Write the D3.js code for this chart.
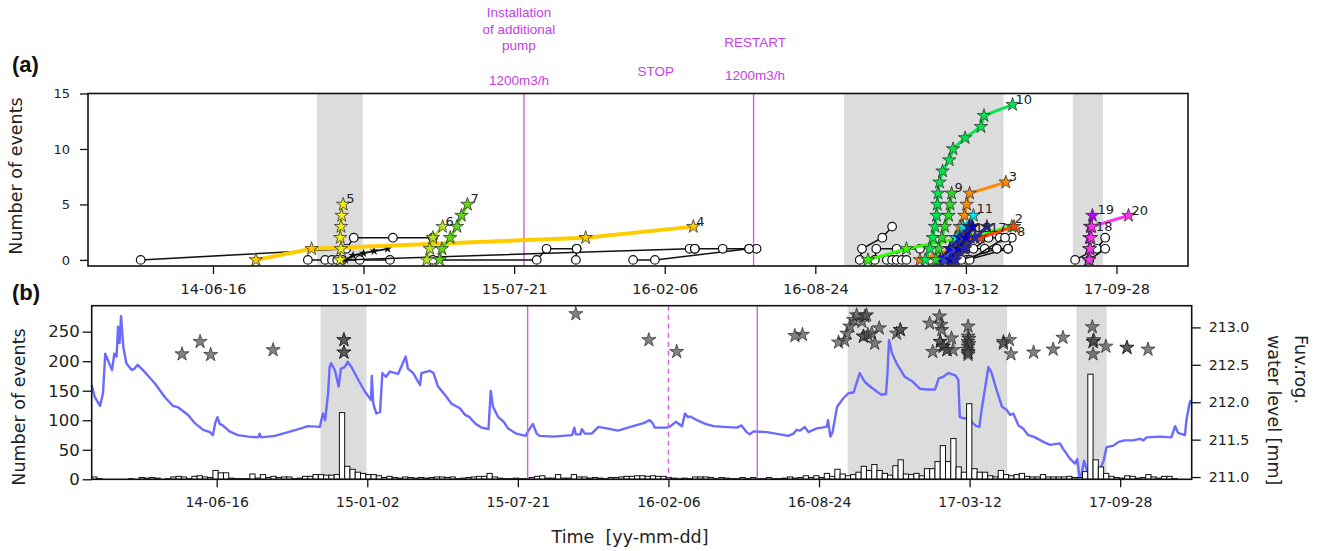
<!DOCTYPE html>
<html>
<head>
<meta charset="utf-8">
<script src="https://cdn.jsdelivr.net/npm/d3@7"></script>
<style>
  body { margin: 0; background: #fff; }
  svg { display: block; font-family: "DejaVu Sans", sans-serif; }
</style>
</head>
<body>
<svg id="chart" width="1320" height="551"></svg>
<script>
// ---- data (days are counted from 2014-01-01) ----
const tickDates = ["2014-06-16", "2015-01-02", "2015-07-21", "2016-02-06", "2016-08-24", "2017-03-12", "2017-09-28"];
const shadedPeriods = [["2014-11-01", "2015-01-01"], ["2016-10-01", "2017-05-01"], ["2017-08-01", "2017-09-10"]];
const installDate = "2015-08-03";
const stopDate = "2016-02-06";
const restartDate = "2016-06-03";
const installText = ["Installation", "of additional", "pump"];
const rateText = "1200m3/h";

// Fuv.rog. water level [day, level]
const waterLevel = [
  [0,212.23],[4,212.07],[11,211.95],[15,212.12],[18,212.65],[24,212.50],[27,212.43],[30,212.65],[33,212.61],
  [35,213.01],[37,212.79],[39,213.15],[42,212.74],[46,212.52],[53,212.43],[57,212.45],[61,212.50],[68,212.43],
  [84,212.25],[97,212.07],[108,211.95],[115,211.93],[128,211.83],[137,211.72],[148,211.63],[157,211.60],
  [161,211.56],[164,211.72],[167,211.80],[170,211.71],[174,211.69],[183,211.61],[194,211.56],[208,211.54],
  [221,211.53],[223,211.58],[225,211.53],[243,211.55],[261,211.60],[278,211.65],[287,211.68],[303,211.67],
  [307,211.85],[310,211.76],[314,212.12],[316,212.47],[318,212.52],[323,212.43],[328,212.21],[331,212.45],
  [336,212.47],[340,212.54],[345,212.47],[354,212.30],[363,212.14],[371,212.03],[372,212.35],[374,211.98],
  [378,211.85],[383,211.87],[386,212.39],[391,212.34],[396,212.41],[407,212.38],[411,212.47],[417,212.61],
  [420,212.45],[427,212.39],[436,212.23],[438,212.39],[445,212.41],[449,212.42],[454,212.39],[460,212.21],
  [469,212.10],[478,211.98],[489,211.92],[496,211.83],[502,211.80],[509,211.72],[518,211.66],[527,211.64],
  [530,212.15],[533,211.94],[540,211.80],[547,211.74],[553,211.65],[564,211.58],[576,211.55],[580,211.62],
  [586,211.71],[591,211.58],[595,211.55],[613,211.54],[638,211.56],[641,211.66],[643,211.57],[649,211.57],
  [651,211.64],[655,211.58],[664,211.58],[673,211.67],[684,211.65],[699,211.62],[719,211.68],[733,211.72],
  [741,211.76],[745,211.72],[748,211.66],[764,211.66],[769,211.68],[776,211.74],[784,211.68],[788,211.85],
  [792,211.80],[795,211.81],[804,211.76],[815,211.71],[826,211.68],[839,211.67],[857,211.66],[863,211.69],
  [870,211.60],[874,211.57],[879,211.61],[897,211.60],[914,211.57],[925,211.55],[932,211.58],[936,211.63],
  [941,211.62],[947,211.67],[952,211.60],[963,211.65],[976,211.67],[978,211.76],[981,211.54],[984,211.60],
  [990,211.94],[998,212.05],[1005,212.12],[1012,212.13],[1020,212.39],[1027,212.27],[1034,212.21],[1043,212.14],
  [1049,212.10],[1055,212.11],[1057,212.40],[1059,212.83],[1063,212.65],[1069,212.52],[1080,212.34],[1091,212.27],
  [1100,212.18],[1109,212.17],[1120,212.17],[1125,212.32],[1131,212.34],[1138,212.39],[1147,212.36],[1151,212.30],
  [1153,211.80],[1160,211.78],[1166,211.80],[1170,211.72],[1175,211.68],[1179,211.67],[1182,211.90],[1191,212.47],
  [1195,212.40],[1202,212.16],[1209,211.94],[1215,211.90],[1220,211.83],[1224,211.85],[1231,211.69],[1237,211.65],
  [1244,211.56],[1251,211.54],[1264,211.47],[1273,211.43],[1286,211.45],[1290,211.38],[1299,211.25],[1306,211.18],
  [1309,211.24],[1312,211.00],[1315,211.05],[1318,211.22],[1322,211.09],[1326,211.12],[1333,211.11],[1339,211.09],
  [1344,211.22],[1348,211.40],[1357,211.42],[1364,211.47],[1372,211.49],[1383,211.49],[1392,211.51],[1397,211.49],
  [1401,211.53],[1419,211.54],[1434,211.53],[1439,211.68],[1443,211.59],[1452,211.56],[1454,211.76],[1458,211.98],
  [1460,212.03]
];

// weekly number of events, week 0 starts 2014-01-01
const weeklyCounts = [
  4,1,0,0,0,0,0,1,0,3, 2,3,2,0,1,4,5,4,1,5, 6,4,3,15,11,11,2,1,1,1, 9,2,8,3,5,3,4,4,1,2,
  5,5,8,8,7,7,8,113,22,17, 12,10,8,8,6,3,5,3,2,4, 3,2,3,2,3,4,4,3,4,1, 2,3,4,5,5,10,4,2,1,1,
  2,1,1,3,5,6,2,2,8,2, 2,8,4,4,2,3,2,1,3,3, 4,5,5,6,6,5,6,5,5,3, 2,1,2,1,4,4,4,3,1,3,
  2,1,1,3,1,3,1,1,3,1, 1,2,4,2,3,6,3,6,3,10, 5,17,9,6,8,12,22,15,25,15, 10,7,23,33,9,8,10,6,18,18,
  30,57,30,69,21,12,128,18,12,12, 6,4,15,8,6,8,10,5,4,4, 8,4,4,4,4,5,3,3,13,178, 33,21,10,5,3,2,6,5,2,3,
  8,4,2,5,5,1,0,0,0
];

// located events in panel (b) [day, value]
const eventStars = [
  [120,212],[144,233],[158,211],[241,219],[335,236],[335,236],[335,215],[335,215],
  [643,280],[740,236],[777,216],
  [934,243],[944,245],[992,232],[1000,235],[1003,247],[1007,259],[1012,270],[1016,278],[1023,267],[1027,276],
  [1029,278],[1025,242],[1025,242],[1031,245],[1036,247],[1040,230],[1046,256],[1069,247],[1074,253],[1074,253],
  [1113,264],[1126,276],[1128,262],[1129,253],[1117,216],[1127,233],[1127,233],[1131,225],[1131,225],
  [1136,219],[1136,219],[1142,239],[1144,219],
  [1164,259],[1164,242],[1164,233],[1164,225],[1164,216],[1164,211],[1165,238],[1165,229],[1163,220],[1164,214],
  [1211,233],[1211,230],[1219,236],[1221,212],[1251,215],[1277,220],[1290,240],
  [1329,258],[1330,233],[1330,233],[1331,236],[1330,212],[1347,225],[1375,223],[1375,223],[1403,220]
];

// multiplet families without a number [day, cumulative events]
const blackSeqs = [
  [[70,0],[343,1],[353,2],[405,2],[458,2]],
  [[292,0],[315,0],[324,0],[331,0],[361,0],[401,0]],
  [[338,0],[799,1],[806,1]],
  [[458,0],[596,0],[609,1],[649,1]],
  [[648,0],[649,1]],
  [[724,0],[753,0],[878,1],[888,1]],
  [[806,1],[843,1],[878,1]],
  [[1025,0],[1028,1],[1055,2],[1068,3]],
  [[1045,0],[1047,1],[1074,1],[1105,1]],
  [[1061,0],[1068,0],[1074,0],[1081,0],[1087,0]],
  [[1118,0],[1167,1],[1191,1],[1207,1]],
  [[1132,0],[1176,1],[1196,2],[1211,2]],
  [[1147,0],[1167,0],[1222,1],[1227,2]],
  [[1155,0],[1171,0],[1218,2]],
  [[1160,0],[1207,1],[1222,1]],
  [[1311,0],[1340,1],[1351,2]],
  [[1330,0],[1351,1]]
];
const smallBlackSeq = [[337,0],[342,0],[352,0.4],[366,0.6],[380,0.8],[398,1]];

// numbered families [id, [[day, cumulative events], ...]]
const numberedSeqs = [
  ["4", [[223,0],[297,1],[661,2],[804,3]]],
  ["5", [[335,0],[336,1],[335,2],[336,3],[337,4],[339,5]]],
  ["6", [[450,0],[454,1],[458,2],[471,3]]],
  ["7", [[467,0],[470,1],[481,2],[490,3],[496,4],[504,5]]],
  ["2", [[1036,0],[1087,1],[1161,2],[1227,3]]],
  ["8", [[1129,0],[1145,1],[1185,2],[1230,3]]],
  ["1", [[1105,0],[1147,1],[1160,2]]],
  ["12", [[1140,0],[1153,1],[1172,2]]],
  ["3", [[1138,0],[1145,1],[1152,2],[1158,3],[1164,4],[1167,5],[1171,6],[1219,7]]],
  ["11", [[1137,0],[1145,1],[1153,2],[1162,3],[1176,4]]],
  ["13", [[1132,0],[1145,1],[1158,2],[1170,3]]],
  ["14", [[1138,0],[1152,1],[1163,2],[1173,3]]],
  ["16", [[1148,0],[1158,1],[1167,2],[1174,3]]],
  ["15", [[1145,0],[1156,1],[1166,2],[1175,3]]],
  ["17", [[1152,0],[1165,1],[1178,2],[1194,3]]],
  ["9", [[1126,0],[1130,1],[1134,2],[1138,3],[1143,4],[1145,5],[1147,6]]],
  ["10", [[1112,0],[1118,1],[1122,2],[1125,3],[1127,4],[1128,5],[1129,6],[1131,7],[1135,8],[1144,9],[1149,10],[1165,11],[1186,12],[1190,13],[1228,14]]],
  ["18", [[1329,0],[1330,1],[1331,2],[1332,3]]],
  ["19", [[1329,0],[1330,1],[1330,2],[1331,3],[1334,4]]],
  ["20", [[1330,0],[1331,1],[1332,2],[1333,3],[1382,4]]]
];
const hiddenLabels = ["1", "12", "13", "14", "16"];

const seqColour = {
  "1": "#ff7f0e", "2": "#33ff00", "3": "#ff8c00", "4": "#ffcc00", "5": "#f2f20d", "6": "#b5e61d",
  "7": "#5fd80f", "8": "#ff4500", "9": "#2bd92b", "10": "#00e64d", "11": "#00e5e5", "12": "#e65c00",
  "13": "#0000ff", "14": "#3d3dff", "15": "#0000cd", "16": "#4b00e0", "17": "#2424b8",
  "18": "#e600e6", "19": "#b300ff", "20": "#ff33ee"
};
// small nudges for crowded family numbers [dx, dy]
const labelNudge = { "2": [3, -4], "8": [3, 9], "18": [5, 4], "19": [5, -2], "11": [3, -3], "15": [2, 5], "17": [3, 5] };

// ---- setup ----
const parseDate = d3.utcParse("%Y-%m-%d");
const t0 = parseDate("2014-01-01"), t1 = parseDate("2018-01-01");
const atDay = n => d3.utcDay.offset(t0, n);
const magenta = "#d35fe0", magentaText = "#c63ee6";

const svg = d3.select("#chart");

// panel (a) scales
const xA = d3.scaleUtc().domain([t0, t1]).range([88, 1188]);
const yA = d3.scaleLinear().domain([-0.55, 15]).range([266, 93.5]);
// panel (b) scales
const xB = d3.scaleUtc().domain([t0, t1]).range([91.7, 1191.7]);
const yB = d3.scaleLinear().domain([0, 294]).range([479.3, 305.7]);
const yW = d3.scaleLinear().domain([210.97, 213.29]).range([479.3, 305.7]);

function styleAxis(g, size) {
  g.select(".domain").remove();
  g.selectAll(".tick line").attr("stroke", "#111").attr("stroke-width", 1.3);
  g.selectAll(".tick text").attr("font-size", size).attr("fill", "#222")
    .attr("font-family", "DejaVu Sans, sans-serif");
}

// ================= panel (a) =================
const gA = svg.append("g");

gA.selectAll("rect.shade").data(shadedPeriods).enter().append("rect")
  .attr("x", d => xA(parseDate(d[0])))
  .attr("width", d => xA(parseDate(d[1])) - xA(parseDate(d[0])))
  .attr("y", 93.5).attr("height", 266 - 93.5)
  .attr("fill", "#dcdcdc");

[installDate, restartDate].forEach(d => {
  gA.append("line")
    .attr("x1", xA(parseDate(d))).attr("x2", xA(parseDate(d)))
    .attr("y1", 93.5).attr("y2", 266)
    .attr("stroke", magenta).attr("stroke-width", 1.4);
});

const lineA = d3.line().x(d => xA(atDay(d[0]))).y(d => yA(d[1]));
const star = d3.symbol().type(d3.symbolStar);

blackSeqs.forEach(seq => {
  const g = gA.append("g");
  g.append("path").attr("d", lineA(seq))
    .attr("fill", "none").attr("stroke", "#111").attr("stroke-width", 1.5);
  g.selectAll("circle").data(seq).enter().append("circle")
    .attr("cx", d => xA(atDay(d[0]))).attr("cy", d => yA(d[1]))
    .attr("r", 4.3).attr("fill", "#fff").attr("stroke", "#111").attr("stroke-width", 1.2);
});

gA.append("path").attr("d", lineA(smallBlackSeq))
  .attr("fill", "none").attr("stroke", "#111").attr("stroke-width", 1.8);
gA.selectAll("path.bstar").data(smallBlackSeq).enter().append("path")
  .attr("class", "bstar")
  .attr("d", star.size(26)())
  .attr("transform", d => `translate(${xA(atDay(d[0]))},${yA(d[1])})`)
  .attr("fill", "#111");

numberedSeqs.forEach(([id, pts]) => {
  const g = gA.append("g");
  g.append("path").attr("d", lineA(pts))
    .attr("fill", "none").attr("stroke", seqColour[id])
    .attr("stroke-width", id === "4" ? 4 : 3);
  g.selectAll("path.st").data(pts).enter().append("path")
    .attr("class", "st")
    .attr("d", star.size(56)())
    .attr("transform", d => `translate(${xA(atDay(d[0]))},${yA(d[1])})`)
    .attr("fill", seqColour[id]).attr("stroke", "#333").attr("stroke-width", 0.8);
});

numberedSeqs.filter(s => !hiddenLabels.includes(s[0])).forEach(([id, pts]) => {
  const last = pts[pts.length - 1];
  const [dx, dy] = labelNudge[id] || [3, -1];
  gA.append("text")
    .attr("x", xA(atDay(last[0])) + dx).attr("y", yA(last[1]) + dy)
    .attr("font-size", 13).attr("fill", "#222")
    .text(id);
});

gA.append("g").attr("transform", "translate(0,266)")
  .call(d3.axisBottom(xA).tickValues(tickDates.map(parseDate))
    .tickFormat(d3.utcFormat("%y-%m-%d")).tickSize(8).tickPadding(10))
  .call(g => styleAxis(g, 14.5));

gA.append("g").attr("transform", "translate(88,0)")
  .call(d3.axisLeft(yA).tickValues([0, 5, 10, 15]).tickSize(8).tickPadding(10))
  .call(g => styleAxis(g, 13));

gA.append("rect").attr("x", 88).attr("y", 93.5).attr("width", 1100).attr("height", 266 - 93.5)
  .attr("fill", "none").attr("stroke", "#111").attr("stroke-width", 1.6);

gA.append("text").attr("transform", "translate(22,176) rotate(-90)")
  .attr("text-anchor", "middle").attr("font-size", 17.5).attr("fill", "#222")
  .text("Number of events");

svg.append("text").attr("x", 12).attr("y", 72)
  .attr("font-family", "Liberation Sans, Arial, sans-serif").attr("font-weight", "bold")
  .attr("font-size", 22).attr("fill", "#111").text("(a)");

// annotations above panel (a)
const ann = svg.append("g").attr("font-family", "Liberation Sans, Arial, sans-serif")
  .attr("font-size", 13.5).attr("fill", magentaText).attr("text-anchor", "middle");
const xi = xA(parseDate(installDate)) - 5;
installText.forEach((t, i) => ann.append("text").attr("x", xi).attr("y", 17 + i * 16.5).text(t));
ann.append("text").attr("x", xi).attr("y", 85).text(rateText);
ann.append("text").attr("x", xA(parseDate(stopDate)) - 9).attr("y", 76).text("STOP");
const xr = xA(parseDate(restartDate)) + 1.5;
ann.append("text").attr("x", xr).attr("y", 47).text("RESTART");
ann.append("text").attr("x", xr).attr("y", 80).text(rateText);

// ================= panel (b) =================
const gB = svg.append("g");

gB.selectAll("rect.shade").data(shadedPeriods).enter().append("rect")
  .attr("x", d => xB(parseDate(d[0])))
  .attr("width", d => xB(parseDate(d[1])) - xB(parseDate(d[0])))
  .attr("y", 305.7).attr("height", 479.3 - 305.7)
  .attr("fill", "#dcdcdc");

gB.append("path")
  .attr("d", d3.line().x(d => xB(atDay(d[0]))).y(d => yW(d[1]))(waterLevel))
  .attr("fill", "none").attr("stroke", "#6a6aff").attr("stroke-width", 2.4)
  .attr("stroke-linejoin", "round");

gB.selectAll("rect.bar").data(weeklyCounts.map((c, i) => [i, c]).filter(d => d[1] > 0))
  .enter().append("rect")
  .attr("x", d => xB(atDay(d[0] * 7)))
  .attr("width", d => xB(atDay(d[0] * 7 + 7)) - xB(atDay(d[0] * 7)))
  .attr("y", d => yB(d[1]))
  .attr("height", d => yB(0) - yB(d[1]))
  .attr("fill", "#fff").attr("stroke", "#111").attr("stroke-width", 1);

[installDate, restartDate].forEach(d => {
  gB.append("line")
    .attr("x1", xB(parseDate(d))).attr("x2", xB(parseDate(d)))
    .attr("y1", 305.7).attr("y2", 479.3)
    .attr("stroke", magenta).attr("stroke-width", 1.4);
});
gB.append("line")
  .attr("x1", xB(parseDate(stopDate))).attr("x2", xB(parseDate(stopDate)))
  .attr("y1", 305.7).attr("y2", 479.3)
  .attr("stroke", magenta).attr("stroke-width", 1.4).attr("stroke-dasharray", "5,4");

gB.selectAll("path.ev").data(eventStars).enter().append("path")
  .attr("class", "ev")
  .attr("d", star.size(62)())
  .attr("transform", d => `translate(${xB(atDay(d[0]))},${yB(d[1])})`)
  .attr("fill", "#4d4d4d").attr("fill-opacity", 0.7)
  .attr("stroke", "#1a1a1a").attr("stroke-width", 0.8).attr("stroke-opacity", 0.8);

gB.append("g").attr("transform", "translate(0,479.3)")
  .call(d3.axisBottom(xB).tickValues(tickDates.map(parseDate))
    .tickFormat(d3.utcFormat("%y-%m-%d")).tickSize(8).tickPadding(9.5))
  .call(g => styleAxis(g, 14));

gB.append("g").attr("transform", "translate(91.7,0)")
  .call(d3.axisLeft(yB).tickValues([0, 50, 100, 150, 200, 250]).tickSize(9).tickPadding(3))
  .call(g => styleAxis(g, 16.5));

gB.append("g").attr("transform", "translate(1191.7,0)")
  .call(d3.axisRight(yW).tickValues([211, 211.5, 212, 212.5, 213])
    .tickFormat(d3.format(".1f")).tickSize(9).tickPadding(8))
  .call(g => styleAxis(g, 14.2));

gB.append("rect").attr("x", 91.7).attr("y", 305.7).attr("width", 1100).attr("height", 479.3 - 305.7)
  .attr("fill", "none").attr("stroke", "#111").attr("stroke-width", 1.6);

gB.append("text").attr("transform", "translate(25,407) rotate(-90)")
  .attr("text-anchor", "middle").attr("font-size", 17.5).attr("fill", "#222")
  .text("Number of events");

gB.append("text").attr("transform", "translate(1295,335) rotate(90)")
  .attr("font-size", 17.5).attr("fill", "#222").text("Fuv.rog.");
gB.append("text").attr("transform", "translate(1268,335) rotate(90)")
  .attr("font-size", 17.5).attr("fill", "#222").text("water level [mm]");

svg.append("text").attr("x", 12).attr("y", 300)
  .attr("font-family", "Liberation Sans, Arial, sans-serif").attr("font-weight", "bold")
  .attr("font-size", 22).attr("fill", "#111").text("(b)");

svg.append("text").attr("x", 630).attr("y", 543)
  .attr("text-anchor", "middle").attr("font-size", 17.5).attr("fill", "#222")
  .style("white-space", "pre")
  .text("Time  [yy-mm-dd]");
</script>
</body>
</html>
